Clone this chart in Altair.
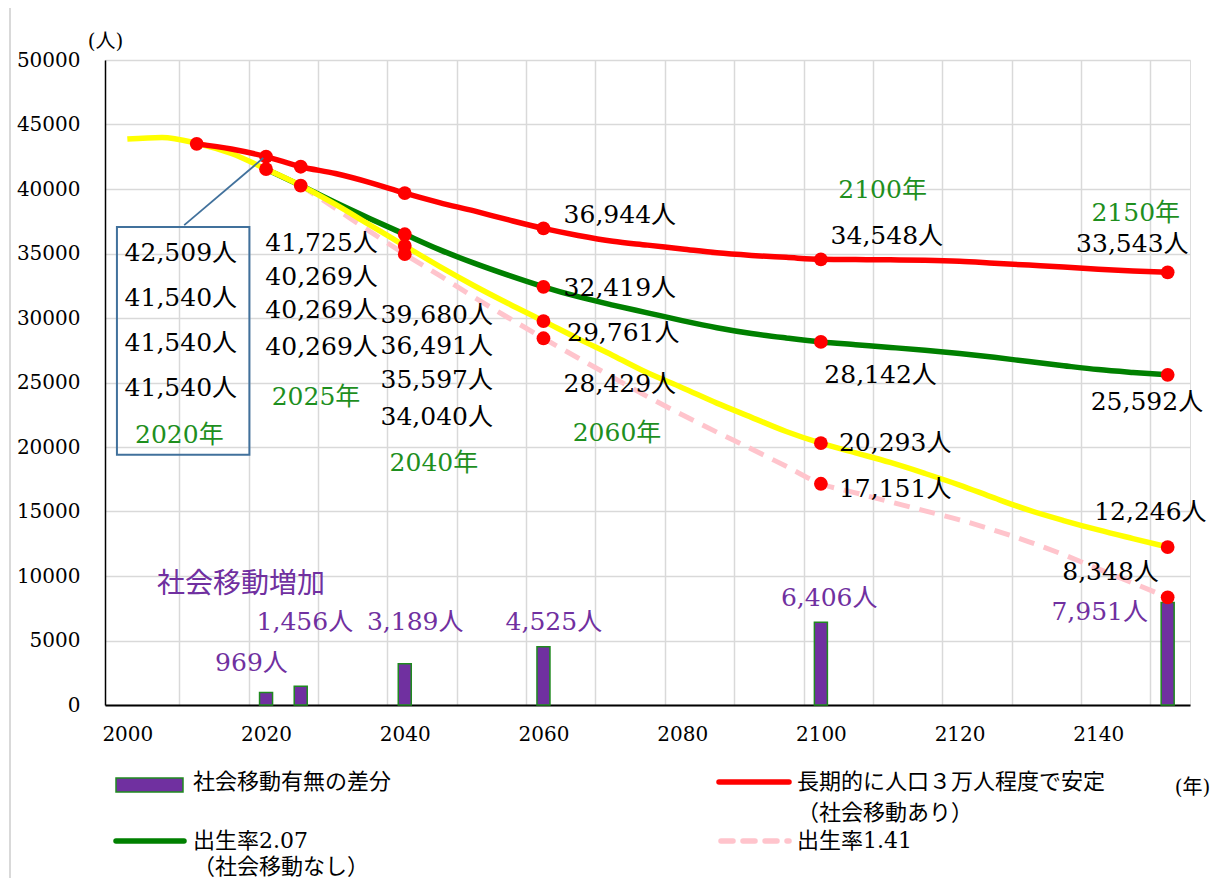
import altair as alt
import pandas as pd

# ---------------- data ----------------
S_RED = "長期的に人口３万人程度で安定（社会移動あり）"
S_GREEN = "出生率2.07（社会移動なし）"
S_PINK = "出生率1.41"
S_YELLOW = "推計"
S_BAR = "社会移動有無の差分"

red_years = list(range(2010, 2155, 5))
red_vals = [43500, 43100, 42509, 41725, 41200, 40500, 39680, 38950, 38300, 37600,
            36944, 36400, 35950, 35650, 35350, 35050, 34850, 34700, 34548, 34530,
            34510, 34480, 34400, 34250, 34100, 33950, 33780, 33650, 33543]

yellow_years = list(range(2000, 2155, 5))
yellow_vals = [43870, 44000, 43550, 42750, 41540, 40269, 38800, 37200, 35597, 34000,
               32500, 31100, 29761, 28400, 27100, 25750, 24600, 23400, 22300, 21200,
               20293, 19550, 18800, 17950, 17050, 16050, 15100, 14300, 13570, 12900, 12246]

green_years = list(range(2020, 2155, 5))
green_vals = [41540, 40269, 38950, 37700, 36491, 35300, 34250, 33300, 32419, 31650,
              31000, 30400, 29800, 29250, 28800, 28450, 28142, 27930, 27720, 27500,
              27250, 26950, 26620, 26300, 26000, 25780, 25592]

pink_years = list(range(2025, 2155, 5))
pink_vals = [40269, 38500, 36700, 34950, 33300, 31600, 30000, 28429, 26900, 25400,
             23900, 22500, 21150, 19850, 18500, 17151, 16450, 15750, 15050, 14350,
             13550, 12650, 11650, 10550, 9450, 8348]

bar_years = [2020, 2025, 2040, 2060, 2100, 2150]
bar_vals = [969, 1456, 3189, 4525, 6406, 7951]

dot_years_red = [2010, 2020, 2025, 2040, 2060, 2100, 2150]
dot_years_yellow = [2020, 2025, 2040, 2060, 2100, 2150]
dot_years_green = [2040, 2060, 2100, 2150]
dot_years_pink = [2040, 2060, 2100, 2150]

# annotation texts (anchored in data units: year, persons)
left_texts = ["42,509人", "41,540人", "41,540人", "41,540人",
              "41,725人", "40,269人", "40,269人", "40,269人",
              "39,680人", "36,491人", "35,597人", "34,040人",
              "36,944人", "32,419人", "29,761人", "28,429人",
              "34,548人", "28,142人", "20,293人", "17,151人",
              "33,543人", "25,592人", "12,246人", "8,348人"]
left_years = [1999.6, 1999.6, 1999.6, 1999.6,
              2019.9, 2019.9, 2019.9, 2019.9,
              2036.5, 2036.5, 2036.5, 2036.5,
              2062.9, 2062.9, 2063.4, 2062.9,
              2101.4, 2100.5, 2102.6, 2102.6,
              2136.8, 2138.9, 2139.4, 2134.8]
left_vals = [35040, 31550, 28060, 24570,
             35815, 33180, 30620, 27750,
             30230, 27830, 25190, 22330,
             37985, 32325, 28840, 24885,
             36360, 25580, 20310, 16745,
             35740, 23490, 14960, 10310]

year_texts = ["2020年", "2025年", "2040年", "2060年", "2100年", "2150年"]
year_years = [2007.5, 2027.2, 2044.2, 2070.6, 2108.9, 2145.4]
year_vals = [20930, 23880, 18760, 21085, 39920, 38140]

bar_texts = ["969人", "1,456人", "3,189人", "4,525人", "6,406人", "7,951人"]
bar_text_years = [2017.9, 2025.6, 2041.5, 2061.5, 2101.2, 2140.2]
bar_text_vals = [3255, 6435, 6435, 6435, 8295, 7200]

note_text = ["社会移動増加"]
note_year = [2016.4]
note_val = [9300]

# callout box around the 2020 labels and its leader line
box = pd.DataFrame({"year": [1998.5], "year2": [2017.6], "value": [19400], "value2": [37050]})
leader = pd.DataFrame({"year": [2008.2], "year2": [2019.6], "value": [37200], "value2": [42400]})

# ---------------- styles ----------------
RED = "#FF0000"
GREEN = "#008000"
YELLOW = "#FFFF00"
PINK = "#FFC4CC"
PURPLE = "#7030A0"
LABEL_GREEN = "#1E8F1E"
GRID = "#D9D9D9"
FONT = "'DejaVu Serif', 'Noto Sans CJK JP', serif"

W, H = 1085, 645

def series_df(name, ys, vs):
    return pd.DataFrame({"series": name, "year": ys, "value": vs})

red_df = series_df(S_RED, red_years, red_vals)
yellow_df = series_df(S_YELLOW, yellow_years, yellow_vals)
green_df = series_df(S_GREEN, green_years, green_vals)
pink_df = series_df(S_PINK, pink_years, pink_vals)

dots_df = pd.concat([
    red_df[red_df.year.isin(dot_years_red)],
    yellow_df[yellow_df.year.isin(dot_years_yellow)],
    green_df[green_df.year.isin(dot_years_green)],
    pink_df[pink_df.year.isin(dot_years_pink)],
])
bars_df = pd.DataFrame({"series": S_BAR, "year": bar_years, "value": bar_vals})

grid_years = [2007.5 + 10 * k for k in range(15)]
label_years = list(range(2000, 2141, 20))
x_values = sorted(grid_years + label_years)

x_axis = alt.Axis(
    values=x_values,
    labelExpr="datum.value % 20 == 0 ? datum.value : ''",
    labelOverlap=False, labelFlush=False,
    gridOpacity={"condition": {"test": "datum.value % 20 == 0", "value": 0}, "value": 1},
    grid=True, gridColor=GRID, gridWidth=1.5,
    ticks=False, tickSize=0,
    labelFont=FONT, labelFontSize=20, labelColor="black", labelPadding=19,
    domainColor="black", domainWidth=2,
    title="(年)", titleX=1087, titleY=82, titleAlign="center", titleBaseline="middle",
    titleFont=FONT, titleFontSize=20, titleFontWeight="normal", titleColor="black",
)
y_axis = alt.Axis(
    values=list(range(0, 50001, 5000)), format="d",
    grid=True, gridColor=GRID, gridWidth=1.5,
    ticks=False, tickSize=0,
    labelFont=FONT, labelFontSize=20, labelColor="black", labelPadding=25,
    domainColor="black", domainWidth=1.5,
    title="(人)", titleAngle=0, titleX=0, titleY=-19, titleAlign="center",
    titleBaseline="middle", titleFont=FONT, titleFontSize=20,
    titleFontWeight="normal", titleColor="black",
)
xs = alt.Scale(domain=[1997.5, 2152.5], nice=False, zero=False)
ys = alt.Scale(domain=[0, 50000], nice=False)

def X():
    return alt.X("year:Q", scale=xs, axis=x_axis)

def Y():
    return alt.Y("value:Q", scale=ys, axis=y_axis)

bars = alt.Chart(bars_df).mark_bar(size=13, color=PURPLE, stroke="#1F8A1F", strokeWidth=1.5).encode(x=X(), y=Y())

def line(df, color, dash=None, width=5.5):
    kw = dict(color=color, strokeWidth=width, interpolate="monotone")
    if dash:
        kw["strokeDash"] = dash
    return alt.Chart(df).mark_line(**kw).encode(x=X(), y=Y())

pink_line = line(pink_df, PINK, dash=[16, 10], width=5)
green_line = line(green_df, GREEN)
yellow_line = line(yellow_df, YELLOW)
red_line = line(red_df, RED)

dots = alt.Chart(dots_df).mark_circle(size=190, color=RED, opacity=1).encode(x=X(), y=Y())

box_mark = alt.Chart(box).mark_rect(fillOpacity=0, stroke="#41719C", strokeWidth=2).encode(
    x=X(), x2="year2:Q", y=Y(), y2="value2:Q")
leader_mark = alt.Chart(leader).mark_rule(color="#41719C", strokeWidth=1.8).encode(
    x=X(), x2="year2:Q", y=Y(), y2="value2:Q")

left_df = pd.DataFrame({"t": left_texts, "year": left_years, "value": left_vals})
left_labels = alt.Chart(left_df).mark_text(
    align="left", baseline="middle", font=FONT, fontSize=25, color="black"
).encode(x=X(), y=Y(), text="t:N")

year_df = pd.DataFrame({"t": year_texts, "year": year_years, "value": year_vals})
year_labels = alt.Chart(year_df).mark_text(
    align="center", baseline="middle", font=FONT, fontSize=25, color=LABEL_GREEN
).encode(x=X(), y=Y(), text="t:N")

bt_df = pd.DataFrame({"t": bar_texts, "year": bar_text_years, "value": bar_text_vals})
bar_labels = alt.Chart(bt_df).mark_text(
    align="center", baseline="middle", font=FONT, fontSize=25, color=PURPLE
).encode(x=X(), y=Y(), text="t:N")

note_df = pd.DataFrame({"t": note_text, "year": note_year, "value": note_val})
note_label = alt.Chart(note_df).mark_text(
    align="center", baseline="middle", font=FONT, fontSize=28, color=PURPLE
).encode(x=X(), y=Y(), text="t:N")

# ---------------- legend (drawn below the axis) ----------------
one = pd.DataFrame({"k": [0]})

def ltext(txt, x, y):
    return alt.Chart(one).mark_text(
        align="left", baseline="middle", font=FONT, fontSize=22, color="black", text=txt
    ).encode(x=alt.value(x), y=alt.value(y))

leg_bar = alt.Chart(one).mark_rect(fill=PURPLE, stroke="#1F8A1F", strokeWidth=1.5).encode(
    x=alt.value(11), x2=alt.value(78), y=alt.value(718), y2=alt.value(732))
leg_red = alt.Chart(one).mark_rule(color=RED, strokeWidth=5.5, strokeCap="round").encode(
    x=alt.value(614), x2=alt.value(684), y=alt.value(722))
leg_green = alt.Chart(one).mark_rule(color=GREEN, strokeWidth=5.5, strokeCap="round").encode(
    x=alt.value(11), x2=alt.value(79), y=alt.value(781))
leg_pink = alt.Chart(one).mark_rule(color=PINK, strokeWidth=5.5, strokeDash=[12, 10], strokeCap="round").encode(
    x=alt.value(616), x2=alt.value(684), y=alt.value(781))

legend_layers = [
    leg_bar, ltext("社会移動有無の差分", 88, 722),
    leg_red, ltext("長期的に人口３万人程度で安定", 692, 722), ltext("（社会移動あり）", 692, 753),
    leg_green, ltext("出生率2.07", 88, 781), ltext("（社会移動なし）", 88, 807),
    leg_pink, ltext("出生率1.41", 692, 781),
]

frame = alt.Chart(one).mark_rect(fillOpacity=0, stroke=GRID, strokeWidth=2).encode(
    x=alt.value(-95), x2=alt.value(1113), y=alt.value(-55), y2=alt.value(900))

chart = alt.layer(
    frame, bars, pink_line, green_line, yellow_line, red_line, dots,
    box_mark, leader_mark, left_labels, year_labels, bar_labels, note_label,
    *legend_layers,
).properties(
    width=W, height=H,
    autosize=alt.AutoSizeParams(type="none"),
    padding={"left": 97, "top": 52, "right": 24, "bottom": 173},
).configure_view(stroke=None).configure(background="white")

chart.save("out.html", embed_options={"renderer": "svg", "actions": False})
